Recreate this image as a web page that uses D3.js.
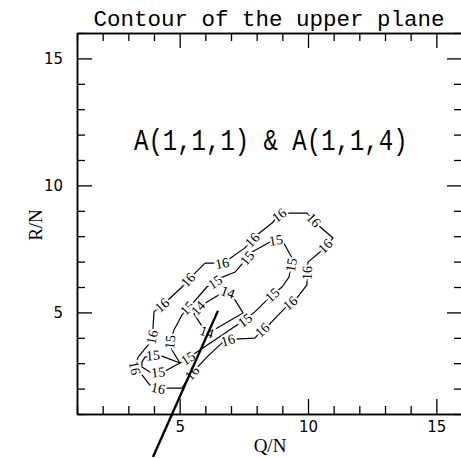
<!DOCTYPE html>
<html>
<head>
<meta charset="utf-8">
<script src="https://cdn.jsdelivr.net/npm/d3@7"></script>
<style>
  body { margin: 0; background: #fff; }
  svg { display: block; }
</style>
</head>
<body>
<script>
// Axis tick values
const majorTicks = [5, 10, 15];
const minorTicks = [1, 2, 3, 4, 6, 7, 8, 9, 11, 12, 13, 14, 16];

// Contour vertices in (Q/N, R/N); a third entry marks a labelled vertex
const contour16 = [
  [5.48, 2.61, "16"], [5.29, 2.34], [5.09, 2.02], [4.43, 2.02], [4.16, 2.02, "16"],
  [3.84, 2.14], [3.53, 2.54], [3.26, 2.81, "16"], [3.38, 3.24], [3.84, 3.80],
  [3.92, 4.03, "16"], [3.96, 4.39], [4.00, 5.02], [4.31, 5.29, "16"], [4.55, 5.49],
  [5.09, 6.00], [5.32, 6.28, "16"], [5.52, 6.47], [5.99, 6.94], [6.30, 6.94],
  [6.65, 6.94, "16"], [6.88, 7.06], [7.54, 7.54], [7.82, 7.85, "16"], [8.01, 8.05],
  [8.60, 8.52], [8.87, 8.83, "16"], [9.10, 8.91], [9.96, 8.91], [10.23, 8.64, "16"],
  [10.39, 8.44], [10.97, 7.93], [10.86, 7.77], [10.66, 7.61, "16"], [10.47, 7.38],
  [10.00, 6.98], [9.96, 6.55, "16"], [9.96, 6.08], [9.57, 5.57], [9.30, 5.37, "16"],
  [9.10, 5.17], [8.40, 4.43], [8.21, 4.31, "16"], [7.93, 3.99], [7.16, 3.95],
  [6.88, 3.91, "16"], [6.65, 3.80], [6.06, 3.24]
];

const contour15 = [
  [5.01, 3.01], [4.70, 3.52], [4.62, 3.83, "15"], [4.78, 4.31], [5.09, 4.90],
  [5.29, 5.17, "15"], [5.52, 5.37], [6.06, 6.00], [6.38, 6.20, "15"], [6.57, 6.35],
  [7.16, 6.59], [7.62, 7.14, "15"], [7.82, 7.38], [8.52, 7.77], [8.75, 7.85, "15"],
  [8.99, 7.85], [9.38, 7.14], [9.34, 6.87, "15"], [9.26, 6.39], [8.99, 6.00],
  [8.60, 5.69, "15"], [7.93, 5.02], [7.54, 4.70, "15"], [7.35, 4.58], [5.79, 3.52],
  [5.32, 3.20, "15"]
];

const contour15b = [
  [5.01, 3.01], [4.31, 3.28], [3.96, 3.32, "15"], [3.65, 3.24], [3.53, 3.05],
  [3.53, 2.85], [3.84, 2.65], [4.16, 2.65, "15"], [4.51, 2.73]
];

const contour14 = [
  [5.71, 5.17, "14"], [5.87, 5.29], [6.65, 5.76], [6.88, 5.80, "14"], [7.08, 5.61],
  [7.47, 4.98], [6.26, 4.27], [6.06, 4.23, "14"], [5.91, 4.39], [5.56, 4.94]
];

// Straight trajectory line across the contours
const trajectory = [[3.96, -0.69], [6.49, 5.06]];

const W = 461, H = 458;
const svg = d3.select("body").append("svg").attr("width", W).attr("height", H);

const x = d3.scaleLinear().domain([1, 16]).range([77, 462]);
const y = d3.scaleLinear().domain([1, 16]).range([414, 33]);

const MAJ = 15, MIN = 8;
const fmt = d3.format("d");

function styleAxis(g) {
  g.selectAll(".domain").attr("stroke", "#000").attr("stroke-width", 1.5);
  g.selectAll(".tick line").attr("stroke", "#000").attr("stroke-width", 1.3);
  g.selectAll(".tick text")
    .attr("fill", "#000")
    .style("font-family", "'DejaVu Sans', sans-serif")
    .style("font-size", "15px");
}

// Bottom axis
svg.append("g").attr("transform", `translate(0,${y(1)})`)
  .call(d3.axisBottom(x).tickValues(minorTicks).tickSizeInner(-MIN).tickSizeOuter(0).tickFormat(""))
  .call(styleAxis);
svg.append("g").attr("transform", `translate(0,${y(1)})`)
  .call(d3.axisBottom(x).tickValues(majorTicks).tickSizeInner(-MAJ).tickSizeOuter(0).tickFormat(fmt).tickPadding(7))
  .call(styleAxis);

// Top axis
svg.append("g").attr("transform", `translate(0,${y(16)})`)
  .call(d3.axisTop(x).tickValues(minorTicks).tickSizeInner(-MIN).tickSizeOuter(0).tickFormat(""))
  .call(styleAxis);
svg.append("g").attr("transform", `translate(0,${y(16)})`)
  .call(d3.axisTop(x).tickValues(majorTicks).tickSizeInner(-MAJ).tickSizeOuter(0).tickFormat(""))
  .call(styleAxis);

// Left axis
svg.append("g").attr("transform", `translate(${x(1)},0)`)
  .call(d3.axisLeft(y).tickValues(minorTicks).tickSizeInner(-MIN).tickSizeOuter(0).tickFormat(""))
  .call(styleAxis);
svg.append("g").attr("transform", `translate(${x(1)},0)`)
  .call(d3.axisLeft(y).tickValues(majorTicks).tickSizeInner(-MAJ).tickSizeOuter(0).tickFormat(fmt).tickPadding(14))
  .call(styleAxis);

// Right axis
svg.append("g").attr("transform", `translate(${x(16)},0)`)
  .call(d3.axisRight(y).tickValues(minorTicks).tickSizeInner(-MIN).tickSizeOuter(0).tickFormat(""))
  .call(styleAxis);
svg.append("g").attr("transform", `translate(${x(16)},0)`)
  .call(d3.axisRight(y).tickValues(majorTicks).tickSizeInner(-MAJ).tickSizeOuter(0).tickFormat(""))
  .call(styleAxis);

// Title
svg.append("text")
  .attr("x", 269).attr("y", 26)
  .attr("text-anchor", "middle")
  .style("font-family", "'Liberation Mono', monospace")
  .style("font-size", "22.5px")
  .text("Contour of the upper plane");

// Axis titles
svg.append("text")
  .attr("x", 270).attr("y", 452)
  .attr("text-anchor", "middle")
  .style("font-family", "'Liberation Serif', serif")
  .style("font-size", "19px")
  .text("Q/N");

svg.append("text")
  .attr("transform", "translate(42,225) rotate(-90)")
  .attr("text-anchor", "middle")
  .style("font-family", "'Liberation Serif', serif")
  .style("font-size", "19px")
  .text("R/N");

// Annotation
svg.append("text")
  .attr("transform", "translate(134,150) scale(1,1.2)")
  .style("font-family", "'Liberation Mono', monospace")
  .style("font-size", "24px")
  .text("A(1,1,1) & A(1,1,4)");

// Contours
const line = d3.line().x(d => x(d[0])).y(d => y(d[1])).curve(d3.curveLinearClosed);
const contours = [contour16, contour15, contour15b, contour14];

const cg = svg.append("g");
contours.forEach(c => {
  cg.append("path")
    .attr("d", line(c))
    .attr("fill", "none")
    .attr("stroke", "#000")
    .attr("stroke-width", 1.2)
    .attr("stroke-linejoin", "round");
});

// Contour labels, oriented along the local direction of the contour
contours.forEach(c => {
  const n = c.length;
  c.forEach((d, i) => {
    if (!d[2]) return;
    const p = c[(i - 1 + n) % n], q = c[(i + 1) % n];
    let a = Math.atan2(y(q[1]) - y(p[1]), x(q[0]) - x(p[0])) * 180 / Math.PI;
    if (a > 90) a -= 180;
    if (a <= -90) a += 180;
    cg.append("text")
      .attr("transform", `translate(${x(d[0])},${y(d[1])}) rotate(${a})`)
      .attr("text-anchor", "middle")
      .attr("dy", "0.35em")
      .attr("fill", "#000")
      .attr("stroke", "#fff")
      .attr("stroke-width", 4)
      .attr("paint-order", "stroke")
      .style("font-family", "'Liberation Serif', serif")
      .style("font-size", "14px")
      .text(d[2]);
  });
});

// Trajectory line drawn on top
svg.append("path")
  .attr("d", d3.line().x(d => x(d[0])).y(d => y(d[1]))(trajectory))
  .attr("fill", "none")
  .attr("stroke", "#000")
  .attr("stroke-width", 2.4);
</script>
</body>
</html>
